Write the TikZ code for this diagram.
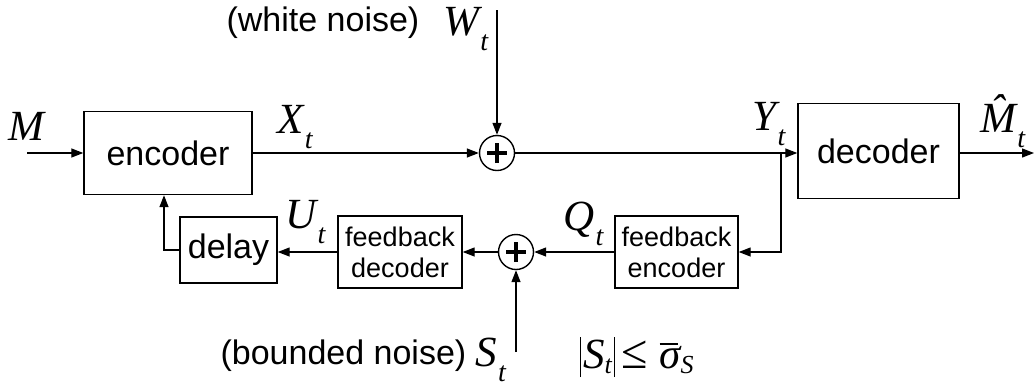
\documentclass[tikz,border=0pt]{standalone}
\usepackage{fontspec}
\setmainfont{Liberation Sans}
\newfontfamily\lser{Liberation Serif}
\usetikzlibrary{arrows.meta}
% chu so duoi (t) cua cac tin hieu
\newcommand{\bien}[2]{#1\kern1pt\raisebox{-15pt}{\fontsize{28}{28}\selectfont #2}}
% vach tri tuyet doi
\newcommand{\vach}{\kern2pt\rule[-9pt]{1.4pt}{40pt}\kern2pt}

\begin{document}
\begin{tikzpicture}[x=1pt, y=-1pt, >={Triangle[length=12pt,width=9pt]}, line width=1.3pt,
    khoi/.style={draw, line width=1.4pt, inner sep=0pt, font=\fontsize{34}{34}\selectfont},
    khoinho/.style={draw, line width=1.4pt, inner sep=0pt, align=center, font=\fontsize{27}{31}\selectfont},
    tong/.style={draw, circle, line width=1.4pt, minimum size=35pt, inner sep=0pt},
    nhan/.style={anchor=base west, inner sep=0pt, font=\fontsize{43}{43}\selectfont\lser\itshape},
    ghichu/.style={inner sep=0pt, font=\fontsize{34}{34}\selectfont}]
    \useasboundingbox (0,0) rectangle (1035,389);

    % 1. Cac khoi chinh
    \node[khoi, minimum width=168pt, minimum height=83pt] (enc) at (168,153) {encoder};
    \node[khoi, minimum width=161pt, minimum height=95pt] (dec) at (878.5,151) {decoder};
    \node[khoi, minimum width=97pt, minimum height=66pt] (dly) at (228.5,250) {delay};
    \node[khoinho, minimum width=124pt, minimum height=72pt] (fbdec) at (400,252) {feedback\\decoder};
    \node[khoinho, minimum width=123pt, minimum height=72pt] (fbenc) at (676.5,252) {feedback\\encoder};

    % 2. Hai bo cong
    \node[tong] (s1) at (497,153) {};
    \node[tong] (s2) at (516,252) {};
    \foreach \s in {s1,s2} {
        \draw[line width=3.2pt] ([xshift=-10pt]\s.center) -- ([xshift=10pt]\s.center);
        \draw[line width=3.2pt] ([yshift=-10pt]\s.center) -- ([yshift=10pt]\s.center);
    }

    % 3. Duong tin hieu
    \coordinate (vaoM) at (27,153);
    \coordinate (re) at (781,153);
    \coordinate (raM) at (1034,153);
    \coordinate (dauW) at (497,10);
    \coordinate (dauS) at (516,352);
    \coordinate (goc) at (164,250);
    \draw[->] (vaoM) -- (enc);
    \draw[->] (enc) -- (s1);
    \draw (s1) -- (re);
    \draw[->] (re) -- (dec.west |- re);
    \draw[->] (dec.east |- re) -- (raM);
    \draw[->] (dauW) -- (s1);
    \draw[->] (re) |- (fbenc.east);
    \draw[->] (fbenc) -- (s2);
    \draw[->] (dauS) -- (s2);
    \draw[->] (s2) -- (fbdec);
    \draw[->] (fbdec.west) -- (dly.east |- fbdec.west);
    \draw[->] (dly.west) -- (goc) -- (goc |- enc.south);

    % 4. Nhan
    \node[nhan] (lM) at (8,140) {M};
    \node[nhan] (lX) at (277,133) {\bien{X}{t}};
    \node[nhan] (lW) at (443,35) {\bien{W}{t}};
    \node[nhan] (lY) at (752,130) {\bien{Y}{t}};
    \node[nhan] (lMh) at (980,132) {\bien{\^{M}}{t}};
    \node[nhan] (lU) at (285,228) {\bien{U}{t}};
    \node[nhan] (lQ) at (563,230) {\bien{Q}{t}};
    \node[nhan] (lS) at (475,366) {\bien{S}{t}};
    \node[nhan] (lB) at (577,368) {\vach S\raisebox{-5pt}{\fontsize{26}{26}\selectfont t}\vach\kern4pt{\upshape\fontsize{48}{48}\selectfont≤}\kern12pt\makebox[0pt][l]{\raisebox{23pt}{\rule{18pt}{1.6pt}}}σ\raisebox{-5pt}{\fontsize{26}{26}\selectfont S}};
    \node[ghichu, anchor=base east] (wn) at (420,31) {(white noise)};
    \node[ghichu, anchor=base east] (bn) at (467,364) {(bounded noise)};
\end{tikzpicture}
\end{document}
